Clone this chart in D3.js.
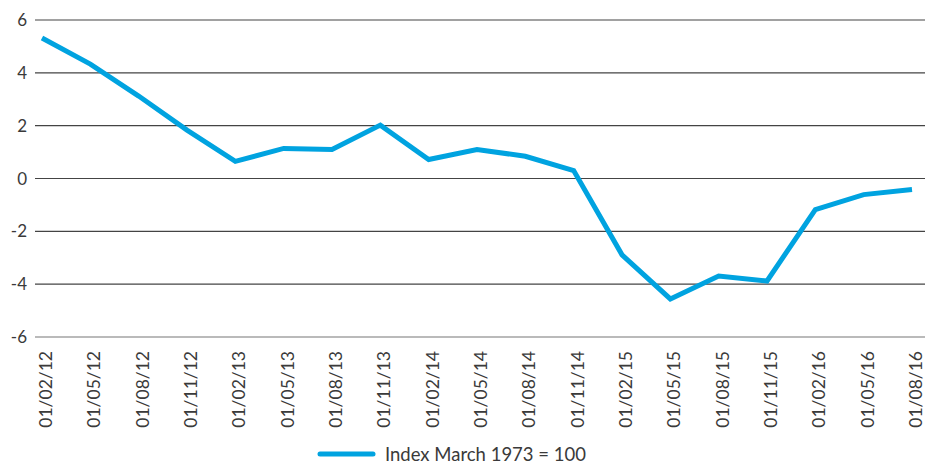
<!DOCTYPE html>
<html>
<head>
<meta charset="utf-8">
<script src="https://cdn.jsdelivr.net/npm/d3@7"></script>
<style>
  body { margin: 0; background: #fff; }
  text { font-family: Lato, "Open Sans", sans-serif; fill: #3a3a3a; }
</style>
</head>
<body>
<script>
// data
var dates = ["01/02/12", "01/05/12", "01/08/12", "01/11/12", "01/02/13", "01/05/13",
             "01/08/13", "01/11/13", "01/02/14", "01/05/14", "01/08/14", "01/11/14",
             "01/02/15", "01/05/15", "01/08/15", "01/11/15", "01/02/16", "01/05/16", "01/08/16"];
var values = [5.32, 4.33, 3.12, 1.83, 0.65, 1.14, 1.1, 2.02, 0.72, 1.1, 0.84, 0.3,
              -2.89, -4.56, -3.69, -3.88, -1.18, -0.61, -0.42];
var yTicks = [-6, -4, -2, 0, 2, 4, 6];
var seriesName = "Index March 1973 = 100";

var w = 935, h = 464;
var plot = {left: 35, right: 925, top: 20, bottom: 337};

var svg = d3.select("body").append("svg")
    .attr("width", w)
    .attr("height", h);

// scales
var xScale = d3.scalePoint()
    .domain(dates)
    .range([42, 912]);

var yScale = d3.scaleLinear()
    .domain([-6, 6])
    .range([plot.bottom, plot.top]);

// gridlines
svg.append("g")
  .selectAll("line")
  .data(yTicks)
  .enter()
  .append("line")
    .attr("x1", plot.left)
    .attr("x2", plot.right)
    .attr("y1", function(d) { return yScale(d); })
    .attr("y2", function(d) { return yScale(d); })
    .attr("stroke", function(d) { return d == -6 ? "#777" : "#444"; })
    .attr("stroke-width", 1.2);

// y axis labels
svg.append("g")
  .selectAll("text")
  .data(yTicks)
  .enter()
  .append("text")
    .attr("x", 27)
    .attr("y", function(d) { return yScale(d); })
    .attr("dy", "0.36em")
    .attr("text-anchor", "end")
    .style("font-size", "17px")
    .text(function(d) { return d; });

// x axis labels, rotated
svg.append("g")
  .selectAll("text")
  .data(dates)
  .enter()
  .append("text")
    .attr("transform", function(d) {
      return "translate(" + (xScale(d) + 10) + ",351) rotate(-90)";
    })
    .attr("text-anchor", "end")
    .style("font-size", "17.5px")
    .text(function(d) { return d; });

// the line
var line = d3.line()
    .x(function(d, i) { return xScale(dates[i]); })
    .y(function(d) { return yScale(d); });

svg.append("path")
    .datum(values)
    .attr("d", line)
    .attr("fill", "none")
    .attr("stroke", "#00a3e0")
    .attr("stroke-width", 5)
    .attr("stroke-linejoin", "miter");

// legend
svg.append("line")
    .attr("x1", 320)
    .attr("x2", 373)
    .attr("y1", 454)
    .attr("y2", 454)
    .attr("stroke", "#00a3e0")
    .attr("stroke-width", 5)
    .attr("stroke-linecap", "round");

svg.append("text")
    .attr("x", 385)
    .attr("y", 461)
    .style("font-size", "18.5px")
    .text(seriesName);
</script>
</body>
</html>
